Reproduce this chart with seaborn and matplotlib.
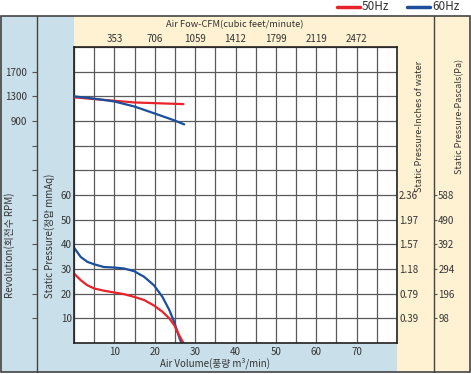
import matplotlib
matplotlib.use("Agg")
import matplotlib.pyplot as plt
from matplotlib.patches import Rectangle
from matplotlib.lines import Line2D
import pandas as pd
import seaborn as sns

# ---- data ----
air_vol_60 = [0, 1.65, 3.3, 5.0, 7.4, 9.9, 12.4, 14.9, 17.4, 19.8, 21.9, 23.6, 24.8, 26.0, 26.6]
sp_60 = [38.7, 34.9, 32.9, 31.9, 30.8, 30.6, 30.2, 29.1, 26.8, 23.4, 18.7, 13.4, 8.6, 2.6, 0]
air_vol_50 = [0, 1.65, 3.3, 5.0, 7.4, 9.9, 12.4, 14.9, 17.4, 19.8, 21.9, 23.6, 24.8, 26.0, 27.1]
sp_50 = [28.2, 25.5, 23.4, 22.1, 21.2, 20.5, 19.8, 18.7, 17.4, 15.2, 12.7, 10.0, 7.3, 3.3, 0]

rpm_x_60 = [0, 5.0, 9.9, 14.9, 19.8, 24.8, 27.3]
rpm_60 = [1300, 1262, 1218, 1136, 1026, 911, 845]
rpm_x_50 = [0, 5.0, 9.9, 14.9, 19.8, 24.8, 27.1]
rpm_50 = [1284, 1256, 1229, 1201, 1190, 1179, 1174]

vol_ticks = [0, 5, 10, 15, 20, 25, 30, 35, 40, 45, 50, 55, 60, 65, 70, 75, 80]
vol_labels = ["", "", "10", "", "20", "", "30", "", "40", "", "50", "", "60", "", "70", "", ""]
cfm_labels = ["", "", "353", "", "706", "", "1059", "", "1412", "", "1799", "", "2119", "", "2472", "", ""]
sp_ticks = [0, 10, 20, 30, 40, 50, 60, 70, 80, 90, 100, 110, 120]
sp_labels = ["", "10", "20", "30", "40", "50", "60", "", "", "", "", "", ""]
inch_labels = ["", "0.39", "0.79", "1.18", "1.57", "1.97", "2.36", "", "", "", "", "", ""]
pa_ticks = [10, 20, 30, 40, 50, 60]
pa_labels = ["98", "196", "294", "392", "490", "588"]
rpm_ticks = [-2300, -1900, -1500, -1100, -700, -300, 100, 500, 900, 1300, 1700]
rpm_labels = ["", "", "", "", "", "", "", "", "900", "1300", "1700"]

RED = "#e8232b"
BLUE = "#1b4f9c"
PANEL_BLUE = "#c9dfe9"
PANEL_BEIGE = "#fff2d3"
EDGE = "#444444"
TXT = "#333333"

sns.set_style("white")
plt.rcParams["font.family"] = ["Noto Sans CJK KR", "DejaVu Sans"]
plt.rcParams["font.size"] = 7

W, H = 471, 374
fig = plt.figure(figsize=(W / 100, H / 100), dpi=100)


def fx(x):
    return x / W


def fy(y):
    return 1 - y / H


def rect(x0, y0, x1, y1, color):
    fig.add_artist(Rectangle((fx(x0), fy(y1)), fx(x1) - fx(x0), fy(y0) - fy(y1),
                             transform=fig.transFigure, facecolor=color,
                             edgecolor="none", zorder=0))


def vline(x, y0, y1, lw=1.0):
    fig.add_artist(Line2D([fx(x), fx(x)], [fy(y0), fy(y1)], transform=fig.transFigure,
                          color=EDGE, lw=lw, zorder=1))


# background panels
rect(0, 16, 74, 372, PANEL_BLUE)
rect(37, 343, 397, 372, PANEL_BLUE)
rect(74, 16, 470, 47, PANEL_BEIGE)
rect(397, 16, 470, 372, PANEL_BEIGE)
fig.add_artist(Rectangle((fx(0.5), fy(372)), fx(469.5), fy(16) - fy(372),
                         transform=fig.transFigure, facecolor="none",
                         edgecolor=EDGE, lw=1.2, zorder=1))
vline(37, 16, 372)
vline(434, 16, 372)

# main axes
px0, py0, px1, py1 = 74, 47, 397, 343
ax = fig.add_axes([fx(px0), fy(py1), fx(px1) - fx(px0), fy(py0) - fy(py1)])
ax.set_facecolor("white")
ax.set_xlim(0, 80)
ax.set_ylim(0, 120)
ax.set_xticks(vol_ticks)
ax.set_xticklabels(vol_labels)
ax.set_yticks(sp_ticks)
ax.set_yticklabels(sp_labels)
ax.grid(True, color="#5a5a5a", lw=0.9)
ax.tick_params(axis="x", length=0, pad=3, colors=TXT)
ax.tick_params(axis="y", length=0, pad=1.5, colors=TXT)
for s in ax.spines.values():
    s.set_color("#222222")
    s.set_linewidth(1.2)

df60 = pd.DataFrame({"vol": air_vol_60, "sp": sp_60})
df50 = pd.DataFrame({"vol": air_vol_50, "sp": sp_50})
sns.lineplot(data=df60, x="vol", y="sp", ax=ax, color=BLUE, lw=1.6, sort=False)
sns.lineplot(data=df50, x="vol", y="sp", ax=ax, color=RED, lw=1.6, sort=False)
ax.set_xlabel("")
ax.set_ylabel("")

# RPM axis (outer left)
ax_rpm = fig.add_axes(ax.get_position(), sharex=ax, frameon=False)
ax_rpm.patch.set_visible(False)
ax_rpm.set_ylim(-2700, 2100)
df_r60 = pd.DataFrame({"vol": rpm_x_60, "rpm": rpm_60})
df_r50 = pd.DataFrame({"vol": rpm_x_50, "rpm": rpm_50})
sns.lineplot(data=df_r50, x="vol", y="rpm", ax=ax_rpm, color=RED, lw=1.6, sort=False)
sns.lineplot(data=df_r60, x="vol", y="rpm", ax=ax_rpm, color=BLUE, lw=1.6, sort=False)
ax_rpm.set_xlabel("")
ax_rpm.set_ylabel("")
ax_rpm.set_yticks(rpm_ticks)
ax_rpm.set_yticklabels(rpm_labels)
ax_rpm.spines["left"].set_position(("axes", (37 - px0) / (px1 - px0)))
ax_rpm.spines["left"].set_visible(False)
ax_rpm.yaxis.set_ticks_position("left")
ax_rpm.tick_params(axis="y", direction="out", length=3.5, width=0.8, color="#555555",
                   pad=3.5, colors=TXT)
for t in ax_rpm.yaxis.get_major_ticks():
    t.tick1line.set_color("#555555")
ax_rpm.tick_params(axis="x", bottom=False, labelbottom=False)

# top CFM axis
ax_top = ax.twiny()
ax_top.set_xlim(0, 80)
ax_top.set_xticks(vol_ticks)
ax_top.set_xticklabels(cfm_labels)
ax_top.tick_params(axis="x", length=0, pad=2, colors=TXT)
for s in ax_top.spines.values():
    s.set_visible(False)

# inches of water axis
ax_in = ax.twinx()
ax_in.set_ylim(0, 120)
ax_in.set_yticks(sp_ticks)
ax_in.set_yticklabels(inch_labels)
ax_in.tick_params(axis="y", length=0, pad=1.5, colors=TXT)
for s in ax_in.spines.values():
    s.set_visible(False)

# pascals axis
ax_pa = ax.twinx()
ax_pa.set_ylim(0, 120)
ax_pa.set_yticks(pa_ticks)
ax_pa.set_yticklabels(pa_labels)
ax_pa.spines["right"].set_position(("axes", (434 - px0) / (px1 - px0)))
for s in ax_pa.spines.values():
    s.set_visible(False)
ax_pa.tick_params(axis="y", direction="out", length=2.5, width=0.8, color="#555555",
                  pad=0.5, colors=TXT)

# axis titles
fig.text(fx(235), fy(25), "Air Fow-CFM(cubic feet/minute)", ha="center", va="center",
         color=TXT, fontsize=6.7)
fig.text(fx(215), fy(363), "Air Volume(풍량 m³/min)", ha="center", va="center", color=TXT)
fig.text(fx(10), fy(245), "Revolution(회전수 RPM)", ha="center", va="center", rotation=90, color=TXT)
fig.text(fx(50), fy(236), "Static Pressure(정압 mmAq)", ha="center", va="center", rotation=90, color=TXT)
fig.text(fx(419), fy(126), "Static Pressure-Inches of water", ha="center", va="center",
         rotation=90, color=TXT, fontsize=6.5)
fig.text(fx(460), fy(116), "Static Pressure-Pascals(Pa)", ha="center", va="center",
         rotation=90, color=TXT, fontsize=6.5)

# legend
fig.add_artist(Line2D([fx(337), fx(360)], [fy(7), fy(7)], transform=fig.transFigure, color=RED, lw=2.5))
fig.text(fx(362), fy(7), "50Hz", ha="left", va="center", color=TXT, fontsize=8.5)
fig.add_artist(Line2D([fx(407), fx(430)], [fy(7), fy(7)], transform=fig.transFigure, color=BLUE, lw=2.5))
fig.text(fx(432), fy(7), "60Hz", ha="left", va="center", color=TXT, fontsize=8.5)

fig.savefig("out.png", dpi=100)
